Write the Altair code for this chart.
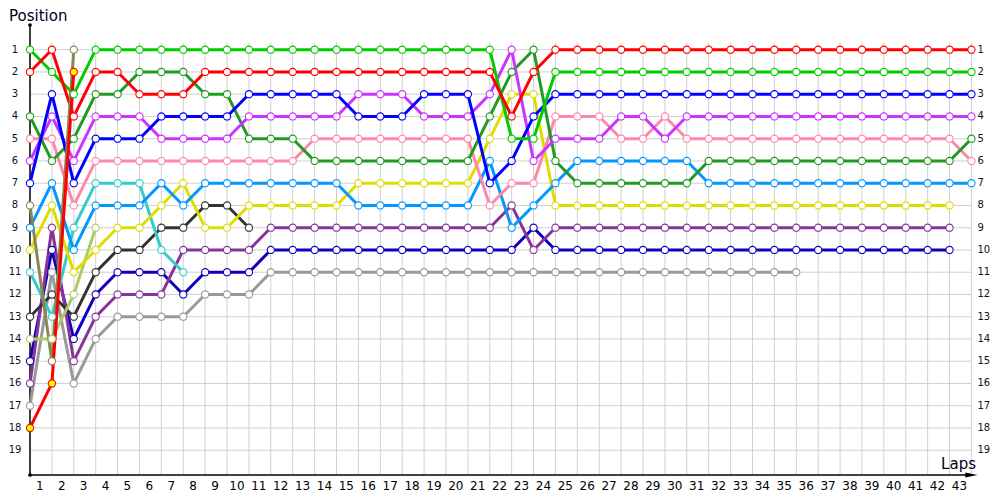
import altair as alt
import pandas as pd

# ---------------- data (positions per lap, lap 0 = grid) ----------------
green = [1, 2, 3, 1, 1, 1, 1, 1, 1, 1,
         1, 1, 1, 1, 1, 1, 1, 1, 1, 1,
         1, 1, 5, 5, 2, 2, 2, 2, 2, 2,
         2, 2, 2, 2, 2, 2, 2, 2, 2, 2,
         2, 2, 2, 2]
red = [2, 1, 4, 2, 2, 3, 3, 3, 2, 2,
       2, 2, 2, 2, 2, 2, 2, 2, 2, 2,
       2, 2, 4, 2, 1, 1, 1, 1, 1, 1,
       1, 1, 1, 1, 1, 1, 1, 1, 1, 1,
       1, 1, 1, 1]
blue = [7, 3, 7, 5, 5, 5, 4, 4, 4, 4,
        3, 3, 3, 3, 3, 4, 4, 4, 3, 3,
        3, 7, 6, 4, 3, 3, 3, 3, 3, 3,
        3, 3, 3, 3, 3, 3, 3, 3, 3, 3,
        3, 3, 3, 3]
violet = [6, 4, 6, 4, 4, 4, 5, 5, 5, 5,
          4, 4, 4, 4, 4, 3, 3, 3, 4, 4,
          4, 3, 1, 6, 5, 5, 5, 4, 4, 5,
          4, 4, 4, 4, 4, 4, 4, 4, 4, 4,
          4, 4, 4, 4]
pink = [5, 5, 8, 6, 6, 6, 6, 6, 6, 6,
        6, 6, 6, 5, 5, 5, 5, 5, 5, 5,
        5, 8, 7, 7, 4, 4, 4, 5, 5, 4,
        5, 5, 5, 5, 5, 5, 5, 5, 5, 5,
        5, 5, 5, 6]
darkgreen = [4, 6, 5, 3, 3, 2, 2, 2, 3, 3,
             5, 5, 5, 6, 6, 6, 6, 6, 6, 6,
             6, 4, 2, 1, 6, 7, 7, 7, 7, 7,
             7, 6, 6, 6, 6, 6, 6, 6, 6, 6,
             6, 6, 6, 5]
lightblue = [9, 7, 10, 8, 8, 8, 7, 8, 7, 7,
             7, 7, 7, 7, 7, 8, 8, 8, 8, 8,
             8, 6, 9, 8, 7, 6, 6, 6, 6, 6,
             6, 7, 7, 7, 7, 7, 7, 7, 7, 7,
             7, 7, 7, 7]
yellow = [10, 8, 11, 10, 9, 9, 8, 7, 9, 9,
          8, 8, 8, 8, 8, 7, 7, 7, 7, 7,
          7, 5, 3, 3, 8, 8, 8, 8, 8, 8,
          8, 8, 8, 8, 8, 8, 8, 8, 8, 8,
          8, 8, 8]
purple = [16, 9, 15, 13, 12, 12, 12, 10, 10, 10,
          10, 9, 9, 9, 9, 9, 9, 9, 9, 9,
          9, 9, 8, 10, 9, 9, 9, 9, 9, 9,
          9, 9, 9, 9, 9, 9, 9, 9, 9, 9,
          9, 9, 9]
navy = [15, 10, 14, 12, 11, 11, 11, 12, 11, 11,
        11, 10, 10, 10, 10, 10, 10, 10, 10, 10,
        10, 10, 10, 9, 10, 10, 10, 10, 10, 10,
        10, 10, 10, 10, 10, 10, 10, 10, 10, 10,
        10, 10, 10]
gray = [17, 11, 16, 14, 13, 13, 13, 13, 12, 12,
        12, 11, 11, 11, 11, 11, 11, 11, 11, 11,
        11, 11, 11, 11, 11, 11, 11, 11, 11, 11,
        11, 11, 11, 11, 11, 11]
cyan = [11, 13, 9, 7, 7, 7, 10, 11]
black = [13, 12, 13, 11, 10, 10, 9, 9, 8, 8, 9]
lightgreen = [14, 14, 12, 9]
olive = [8, 15, 1]
redyellow = [18, 16, 2]

series_names = ["gray", "navy", "purple", "black", "cyan", "lightgreen", "yellow",
                "lightblue", "pink", "darkgreen", "violet", "blue", "green", "red",
                "olive", "redyellow"]
series_data = [gray, navy, purple, black, cyan, lightgreen, yellow,
               lightblue, pink, darkgreen, violet, blue, green, red,
               olive, redyellow]
series_colors = ["#999999", "#1100bb", "#883399", "#333333", "#33cccc", "#aacc66", "#dddd00",
                 "#0099ff", "#ff88aa", "#229922", "#cc33ff", "#0000ff", "#00cc00", "#ff0000",
                 "#888855", "#ff0000"]
series_fills = ["white"] * 15 + ["#ffff00"]

lap_ticks = list(range(1, 44))
pos_ticks = list(range(1, 20))

# ---------------- geometry of the scales ----------------
X_END = 43.3
Y_TOP = -0.11
Y_BOT = 20.115
GRID_TOP = 0.67
LAST_LAP = 43

rows = []
for name, vals, fc in zip(series_names, series_data, series_fills):
    for lap, p in enumerate(vals):
        rows.append({"series": name, "lap": lap, "pos": p, "fill": fc})
df = pd.DataFrame(rows)

xs = alt.Scale(domain=[0, X_END], nice=False, zero=False)
ys = alt.Scale(domain=[Y_TOP, Y_BOT], reverse=True, nice=False, zero=False)
cs = alt.Scale(domain=series_names, range=series_colors)

FONT = "DejaVu Sans"

X = lambda f: alt.X(f, type="quantitative", scale=xs, axis=None)
Y = lambda f: alt.Y(f, type="quantitative", scale=ys, axis=None)

vgrid_df = pd.DataFrame({"lap": lap_ticks, "y1": [GRID_TOP] * len(lap_ticks), "y2": [Y_BOT] * len(lap_ticks)})
vgrid = alt.Chart(vgrid_df).mark_rule(color="#d0d0d0", strokeWidth=1).encode(
    x=X("lap"), y=Y("y1"), y2="y2:Q"
)

hgrid_df = pd.DataFrame({"pos": pos_ticks, "x1": [0] * len(pos_ticks), "x2": [LAST_LAP] * len(pos_ticks)})
hgrid = alt.Chart(hgrid_df).mark_rule(color="#d0d0d0", strokeWidth=1).encode(
    y=Y("pos"), x=X("x1"), x2="x2:Q"
)

yaxis_df = pd.DataFrame({"x": [0], "y1": [Y_TOP], "y2": [Y_BOT]})
yaxis = alt.Chart(yaxis_df).mark_rule(color="black", strokeWidth=1.5).encode(
    x=X("x"), y=Y("y1"), y2="y2:Q"
)
xaxis_df = pd.DataFrame({"y": [Y_BOT], "x1": [0], "x2": [X_END - 0.3]})
xaxis = alt.Chart(xaxis_df).mark_rule(color="black", strokeWidth=1.5).encode(
    y=Y("y"), x=X("x1"), x2="x2:Q"
)
arrow_df = pd.DataFrame({"x": [X_END - 0.3], "y": [Y_BOT]})
arrow = alt.Chart(arrow_df).mark_point(
    shape="M-1,-0.4L1,0L-1,0.4Z", size=150, filled=True, color="black", opacity=1
).encode(x=X("x"), y=Y("y"))
dots_df = pd.DataFrame({"x": [0, 0], "y": [Y_TOP, Y_BOT]})
dots = alt.Chart(dots_df).mark_circle(size=14, color="black", opacity=1).encode(
    x=X("x"), y=Y("y")
)

lines = alt.Chart(df).mark_line(strokeWidth=3, strokeJoin="round").encode(
    x=X("lap"),
    y=Y("pos"),
    color=alt.Color("series:N", scale=cs, legend=None),
    order="lap:Q",
)

points = alt.Chart(df).mark_circle(size=52, strokeWidth=1.1, opacity=1).encode(
    x=X("lap"),
    y=Y("pos"),
    stroke=alt.Stroke("series:N", scale=cs, legend=None),
    fill=alt.Fill("fill:N", scale=None),
)

xlab_df = pd.DataFrame({"x": [l - 0.55 for l in lap_ticks], "y": [Y_BOT] * len(lap_ticks),
                        "t": [str(l) for l in lap_ticks]})
xlabels = alt.Chart(xlab_df).mark_text(
    font=FONT, fontSize=12, color="#000000", align="center", baseline="middle", dy=11
).encode(x=X("x"), y=Y("y"), text="t:N")

ylab_df = pd.DataFrame({"pos": pos_ticks, "x0": [0] * len(pos_ticks), "x1": [LAST_LAP] * len(pos_ticks),
                        "t": [str(p) for p in pos_ticks]})
ylabels_left = alt.Chart(ylab_df).mark_text(
    font=FONT, fontSize=10, color="#111122", align="center", baseline="middle", dx=-15
).encode(y=Y("pos"), x=X("x0"), text="t:N")
ylabels_right = alt.Chart(ylab_df).mark_text(
    font=FONT, fontSize=10, color="#111122", align="left", baseline="middle", dx=6
).encode(y=Y("pos"), x=X("x1"), text="t:N")

title_y = alt.Chart(pd.DataFrame({"t": ["Position"], "x": [0], "y": [Y_TOP]})).mark_text(
    font=FONT, fontSize=15, color="#000022", align="left", baseline="middle", dx=-21, dy=-9
).encode(x=X("x"), y=Y("y"), text="t:N")
title_x = alt.Chart(pd.DataFrame({"t": ["Laps"], "x": [X_END], "y": [Y_BOT]})).mark_text(
    font=FONT, fontSize=15, color="#000022", align="right", baseline="middle", dx=-2, dy=-11
).encode(x=X("x"), y=Y("y"), text="t:N")

chart = alt.layer(
    vgrid, hgrid, yaxis, xaxis, arrow, dots, lines, points,
    xlabels, ylabels_left, ylabels_right, title_y, title_x
).properties(
    width=948,
    height=450,
    padding={"left": 22, "top": 17, "right": 14, "bottom": 17},
    autosize=alt.AutoSizeParams(type="none"),
).configure_view(stroke=None)

chart.save("out.html", embed_options={"renderer": "svg", "actions": False})
